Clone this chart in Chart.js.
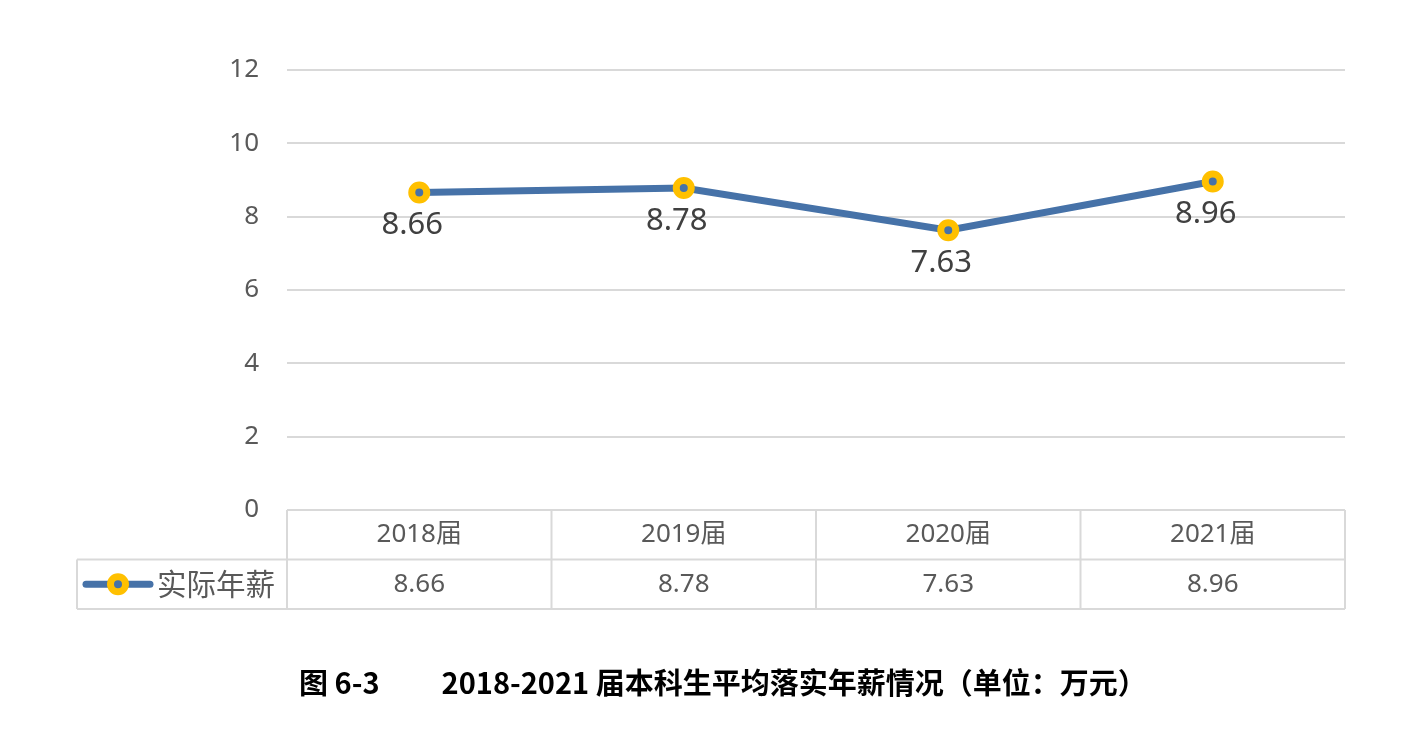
<!DOCTYPE html>
<html>
<head>
<meta charset="utf-8">
<script src="https://cdn.jsdelivr.net/npm/chart.js@4/dist/chart.umd.min.js"></script>
<style>
    html, body { margin: 0; padding: 0; background: #fff; }
    #wrap { position: relative; width: 1425px; height: 734px; }
    #caption {
        position: absolute; left: 299px; top: 661px;
        font: bold 29px "Noto Sans CJK SC", "Noto Sans", sans-serif;
        color: #000; white-space: nowrap; line-height: 40px;
    }
    #caption span + span { margin-left: 62px; }
</style>
</head>
<body>
<div id="wrap">
    <canvas id="chart" width="1425" height="734"></canvas>
    <div id="caption"><span>图 6-3</span><span>2018-2021 届本科生平均落实年薪情况（单位：万元）</span></div>
</div>
<script>
// Данные графика
const categories = ['2018届', '2019届', '2020届', '2021届'];
const seriesName = '实际年薪';
const salary = [8.66, 8.78, 7.63, 8.96];
const yTicks = [0, 2, 4, 6, 8, 10, 12];

const LINE_COLOR = '#4672a8';
const MARKER_COLOR = '#ffc000';
const GRID_COLOR = '#d9d9d9';
const TEXT_COLOR = '#595959';
const FONT = '"Noto Sans", "Noto Sans CJK SC", sans-serif';

/**
 * Подписи значений под точками
 */
const valueLabels = {
    id: 'valueLabels',
    afterDatasetsDraw(chart) {
        const { ctx } = chart;
        const meta = chart.getDatasetMeta(0);
        ctx.save();
        ctx.font = '31px ' + FONT;
        ctx.fillStyle = '#404040';
        ctx.textAlign = 'center';
        ctx.textBaseline = 'middle';
        meta.data.forEach((pt, i) => {
            ctx.fillText(salary[i].toFixed(2), pt.x - 7, pt.y + 33);
        });
        ctx.restore();
    }
};

/**
 * Таблица данных под осью X
 */
const dataTable = {
    id: 'dataTable',
    afterDraw(chart) {
        const { ctx, chartArea } = chart;
        const x = chart.scales.x;
        const top = chartArea.bottom;
        const rowH = 49.5;
        const legendLeft = 77;
        const step = (chartArea.right - chartArea.left) / categories.length;

        ctx.save();
        ctx.strokeStyle = GRID_COLOR;
        ctx.lineWidth = 2;
        ctx.beginPath();
        // горизонтальные линии
        ctx.moveTo(chartArea.left, top);
        ctx.lineTo(chartArea.right, top);
        ctx.moveTo(legendLeft, top + rowH);
        ctx.lineTo(chartArea.right, top + rowH);
        ctx.moveTo(legendLeft, top + rowH * 2);
        ctx.lineTo(chartArea.right, top + rowH * 2);
        // вертикальные линии
        ctx.moveTo(legendLeft, top + rowH);
        ctx.lineTo(legendLeft, top + rowH * 2);
        for (let i = 0; i <= categories.length; i++) {
            const cx = chartArea.left + step * i;
            ctx.moveTo(cx, top);
            ctx.lineTo(cx, top + rowH * 2);
        }
        ctx.stroke();

        ctx.fillStyle = TEXT_COLOR;
        ctx.textAlign = 'center';
        ctx.textBaseline = 'middle';
        ctx.font = '26px ' + FONT;
        categories.forEach((c, i) => {
            const cx = x.getPixelForValue(i);
            ctx.fillText(c, cx, top + rowH / 2);
            ctx.fillText(salary[i].toFixed(2), cx, top + rowH * 1.5);
        });

        // легенда в первой ячейке
        const ly = top + rowH * 1.5;
        ctx.strokeStyle = LINE_COLOR;
        ctx.lineWidth = 7;
        ctx.lineCap = 'round';
        ctx.beginPath();
        ctx.moveTo(86, ly);
        ctx.lineTo(150, ly);
        ctx.stroke();
        ctx.beginPath();
        ctx.arc(118, ly, 7.5, 0, Math.PI * 2);
        ctx.fillStyle = LINE_COLOR;
        ctx.fill();
        ctx.strokeStyle = MARKER_COLOR;
        ctx.lineWidth = 7;
        ctx.stroke();

        ctx.fillStyle = TEXT_COLOR;
        ctx.textAlign = 'left';
        ctx.font = '29.5px "Noto Sans CJK SC", sans-serif';
        ctx.fillText(seriesName, 157, ly);
        ctx.restore();
    }
};

new Chart(document.getElementById('chart'), {
    type: 'line',
    data: {
        labels: categories,
        datasets: [{
            label: seriesName,
            data: salary,
            borderColor: LINE_COLOR,
            borderWidth: 7,
            backgroundColor: LINE_COLOR,
            pointBackgroundColor: LINE_COLOR,
            pointBorderColor: MARKER_COLOR,
            pointBorderWidth: 7,
            pointRadius: 7.5,
            pointHoverRadius: 7.5,
            tension: 0,
            fill: false,
        }]
    },
    options: {
        responsive: false,
        animation: false,
        layout: {
            padding: { left: 0, right: 80, top: 70, bottom: 224 }
        },
        plugins: {
            legend: { display: false },
            tooltip: { enabled: false },
        },
        scales: {
            x: {
                type: 'category',
                offset: true,
                display: false,
            },
            y: {
                min: 0,
                max: 12,
                afterFit: (scale) => { scale.width = 287; },
                afterBuildTicks: (scale) => {
                    scale.ticks = yTicks.map(v => ({ value: v }));
                },
                border: { display: false },
                grid: {
                    color: (c) => c.tick && c.tick.value === 0 ? 'rgba(0,0,0,0)' : GRID_COLOR,
                    lineWidth: 2,
                    drawTicks: false,
                },
                ticks: {
                    color: TEXT_COLOR,
                    font: { family: FONT, size: 26 },
                    padding: 28,
                },
            },
        },
    },
    plugins: [valueLabels, dataTable],
});
</script>
</body>
</html>
